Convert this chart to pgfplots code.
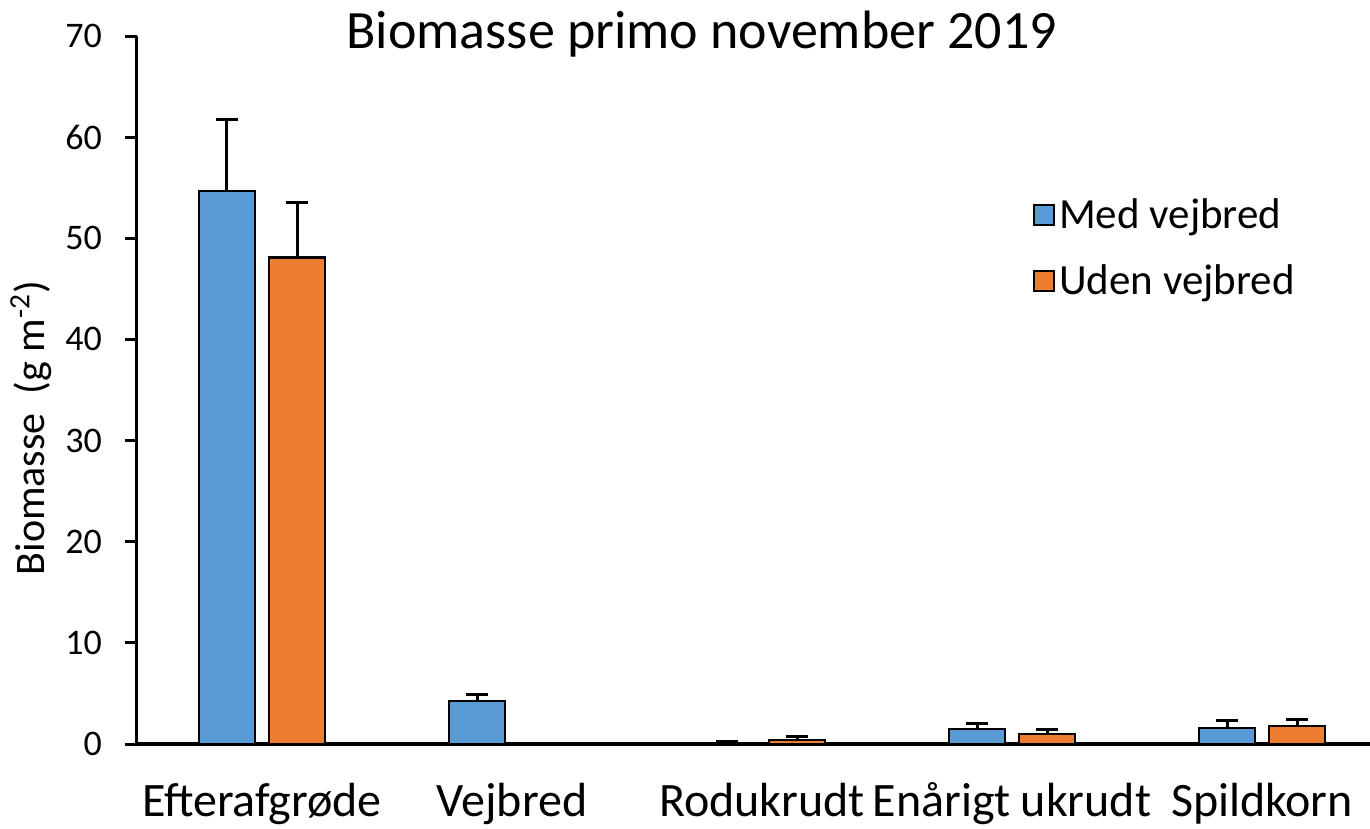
\documentclass[border=0pt]{standalone}
\usepackage{fontspec}
\setmainfont{Carlito}
\usepackage{pgfplots}
\usepackage{pgfplotstable}
\pgfplotsset{compat=1.18}

\definecolor{medblue}{HTML}{5B9BD5}
\definecolor{udenorange}{HTML}{ED7D31}

% biomass (g m-2) and upper error
\pgfplotstableread{
x y e
0 54.7 7.0
1 4.25 0.65
2 0.12 0.1
3 1.5 0.55
4 1.6 0.7
}\medtab
\pgfplotstableread{
x y e
0 48.1 5.4
2 0.4 0.3
3 1.0 0.4
4 1.8 0.6
}\udentab

\begin{document}
\begin{tikzpicture}
\begin{axis}[
  name=ax,
  scale only axis,
  width=616.5pt, height=354pt,
  ybar=7pt, bar width=28pt,
  xmin=-0.5, xmax=4.432,
  ymin=0, ymax=70,
  ytick={0,10,...,70},
  xtick={0,...,4},
  xticklabels={Efterafgrøde,Vejbred,Rodukrudt,Enårigt ukrudt,Spildkorn},
  axis x line*=bottom, axis y line*=left,
  axis line style={-, black},
  x axis line style={line width=2pt},
  y axis line style={line width=1.5pt},
  tick align=outside,
  x tick style={draw=none},
  y tick style={line width=1.5pt, black},
  major tick length=6pt,
  /pgf/number format/assume math mode=true,
  yticklabel style={font=\fontsize{18}{20}\selectfont, xshift=-8pt},
  xticklabel style={font=\fontsize{24}{27}\selectfont, anchor=base, yshift=-30pt},
  ylabel={Biomasse\ \ (g m\textsuperscript{-2})},
  ylabel style={font=\fontsize{21}{24}\selectfont, at={(rel axis cs:0,0.446)}, anchor=center, yshift=53pt},
  title={Biomasse primo november 2019},
  title style={at={(0.458,1)}, anchor=base, yshift=-12pt, font=\fontsize{27}{30}\selectfont},
  legend style={at={(0.7216,0.782)}, anchor=north west, draw=none, fill=none,
    font=\fontsize{21.5}{24}\selectfont, row sep=12.5pt, cells={anchor=west}},
  legend image code/.code={\draw[#1, line width=1pt] (-3.5pt,-5pt) rectangle (6.5pt,5pt);},
  every axis plot/.append style={draw=black, line width=1.2pt},
  error bars/error bar style={line width=1.5pt, black},
  error bars/error mark options={black, rotate=90, mark size=5.5pt, line width=1.5pt},
]
\addplot[fill=medblue, error bars/.cd, y dir=plus, y explicit]
  table[x=x, y=y, y error=e] {\medtab};
\addlegendentry{Med vejbred}
\addplot[fill=udenorange, error bars/.cd, y dir=plus, y explicit]
  table[x=x, y=y, y error=e] {\udentab};
\addlegendentry{Uden vejbred}
\end{axis}
\pgfresetboundingbox
\path[use as bounding box] ([shift={(-68.5pt,-42.5pt)}]ax.south west) rectangle ([shift={(0pt,18pt)}]ax.north east);
\end{tikzpicture}
\end{document}
